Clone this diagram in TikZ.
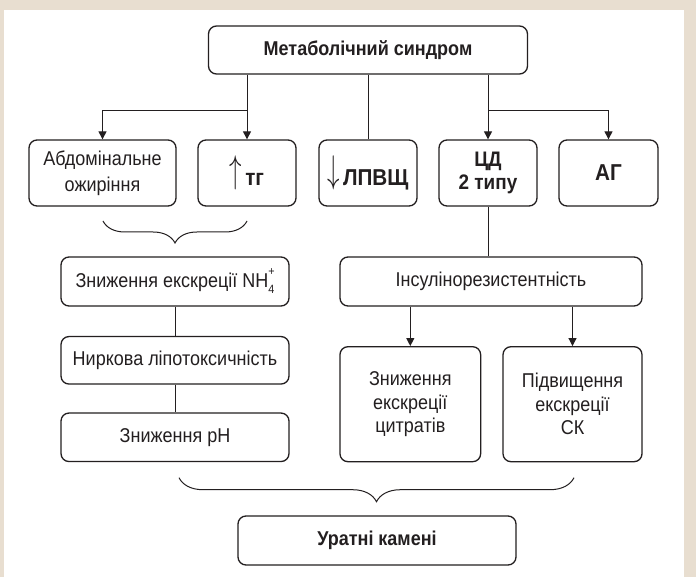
\documentclass[tikz,border=0pt]{standalone}
\usepackage{graphicx}
\usepackage{fontspec}
\setmainfont{Liberation Sans}[FakeStretch=0.9]
\usetikzlibrary{arrows.meta,decorations.pathreplacing}
\definecolor{beige}{HTML}{E8DED0}
\definecolor{ink}{HTML}{231F20}
\newcommand{\nhfour}{NH\makebox[0pt][l]{\raisebox{0.6em}{\fontsize{12}{12}\selectfont +}}\raisebox{-0.3em}{\fontsize{12}{12}\selectfont 4}}
\newcommand{\tallup}{\raisebox{2.5pt}{\scalebox{1}[1.55]{$\uparrow$}}}
\newcommand{\talldown}{\raisebox{2.5pt}{\scalebox{1}[1.55]{$\downarrow$}}}
\begin{document}
\begin{tikzpicture}[x=1pt,y=1pt,
  box/.style={draw=ink, line width=1.3pt, rounded corners=8pt, align=center, inner sep=0pt, text=ink, font=\fontsize{20}{26}\selectfont},
  bigbold/.style={font=\fontsize{23}{27}\selectfont\bfseries},
  conn/.style={draw=ink, line width=1pt},
  arr/.style={conn, -{Triangle[length=8pt,width=8pt]}},
  brc/.style={conn, decorate, decoration={brace, mirror, amplitude=#1}}]
\useasboundingbox (0,0) rectangle (696,-577);
\fill[beige] (0,0) rectangle (696,-577);
\fill[white] (4,-10) rectangle (684,-577);

\node[box, minimum width=319pt, minimum height=48pt] (ms) at (368,-50) {\textbf{Метаболічний синдром}};

\node[box, minimum width=147pt, minimum height=66pt] (ab) at (102.5,-173) {Абдомінальне\\ожиріння};
\node[box, bigbold, minimum width=98pt, minimum height=66pt] (tg) at (247,-173) {\tallup\kern3pt тг};
\node[box, bigbold, minimum width=98pt, minimum height=66pt] (lp) at (368,-173) {\talldown\kern3pt ЛПВЩ};
\node[box, minimum width=98pt, minimum height=66pt, font=\fontsize{21}{22.5}\selectfont\bfseries] (cd) at (488,-173) {ЦД\\2 типу};
\node[box, bigbold, minimum width=99pt, minimum height=66pt] (ag) at (608.5,-173) {АГ};

\node[box, minimum width=228pt, minimum height=49pt] (nh) at (175,-281.5) {Зниження екскреції \nhfour};
\node[box, minimum width=302pt, minimum height=49pt] (ir) at (491,-281.5) {Інсулінорезистентність};
\node[box, minimum width=228pt, minimum height=47.5pt] (nl) at (175,-360.3) {Ниркова ліпотоксичність};
\node[box, minimum width=228pt, minimum height=48.5pt] (ph) at (175,-437.3) {Зниження pH};
\node[box, minimum width=140.7pt, minimum height=115pt, font=\fontsize{20}{23.5}\selectfont] (zc) at (410.3,-404.2) {Зниження\\екскреції\\цитратів};
\node[box, minimum width=139pt, minimum height=115pt, font=\fontsize{20}{23.5}\selectfont] (pv) at (572.5,-404.2) {Підвищення\\екскреції\\СК};
\node[box, minimum width=278pt, minimum height=49pt] (ur) at (377,-540.5) {\textbf{Уратні камені}};

\coordinate (jl) at (0,-110.7);
\draw[arr] (tg.north |- ms.south) -- (tg.north);
\draw[arr] (tg.north |- jl) -| (ab.north);
\draw[conn] (lp.north |- ms.south) -- (lp.north);
\draw[arr] (cd.north |- ms.south) -- (cd.north);
\draw[arr] (cd.north |- jl) -| (ag.north);
\draw[conn] (cd.south) -- (cd.south |- ir.north);
\draw[arr] (zc.north |- ir.south) -- (zc.north);
\draw[arr] (pv.north |- ir.south) -- (pv.north);
\draw[conn] (nh.south) -- (nl.north);
\draw[conn] (nl.south) -- (ph.north);

\coordinate (b1) at (103,-221);
\coordinate (b2) at (247,-221);
\draw[brc=22pt] (b1) -- (b2);
\coordinate (b3) at (179,-477.7);
\coordinate (b4) at (574,-477.7);
\draw[brc=24pt] (b3) -- (b4);
\end{tikzpicture}
\end{document}
